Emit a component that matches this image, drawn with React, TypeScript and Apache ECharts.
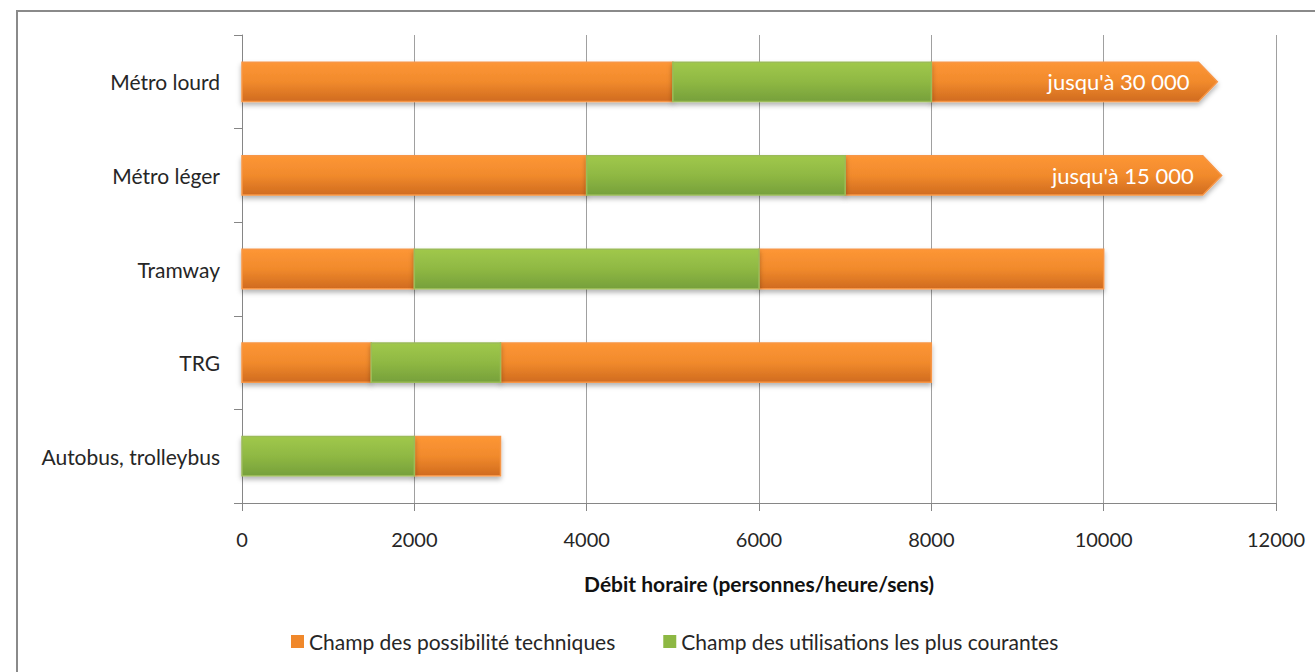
import React, { useEffect, useRef } from "react";
import * as echarts from "echarts";

const categories = ["Métro lourd", "Métro léger", "Tramway", "TRG", "Autobus, trolleybus"];

const X_MIN = 0;
const X_MAX = 12000;
const X_STEP = 2000;

const seriesNames = ["Champ des possibilité techniques", "Champ des utilisations les plus courantes"];

// [category index, start, end]
const techniqueSegments = [
  [0, 0, 5000],
  [0, 8000, 11100],
  [1, 0, 4000],
  [1, 7000, 11150],
  [2, 0, 2000],
  [2, 6000, 10000],
  [3, 0, 1500],
  [3, 3000, 8000],
  [4, 2000, 3000],
];
const techniqueLabels = ["", "jusqu'à 30 000", "", "jusqu'à 15 000", "", "", "", "", ""];

const courantSegments = [
  [0, 5000, 8000],
  [1, 4000, 7000],
  [2, 2000, 6000],
  [3, 1500, 3000],
  [4, 0, 2000],
];
const courantLabels = ["", "", "", "", ""];

const FONT = "Lato, 'Open Sans', sans-serif";

function makeRender(colors: string[], stroke: string, labels: string[]) {
  return (params: any, api: any) => {
    const cat = api.value(0);
    const s = api.value(1);
    const e = api.value(2);
    const label = labels[params.dataIndex];
    const p0 = api.coord([s, cat]);
    const p1 = api.coord([e, cat]);
    const band = api.size([0, 1])[1];
    const h = band * 0.42;
    const top = p0[1] - h / 2;
    const bot = p0[1] + h / 2;
    const fill = new echarts.graphic.LinearGradient(0, 0, 0, 1, [
      { offset: 0, color: colors[0] },
      { offset: 0.5, color: colors[1] },
      { offset: 1, color: colors[2] },
    ]);
    const style = {
      fill,
      stroke,
      lineWidth: 1.5,
      shadowBlur: 5,
      shadowOffsetY: 3,
      shadowColor: "rgba(0,0,0,0.3)",
    };
    if (!label) {
      return {
        type: "rect",
        shape: { x: p0[0], y: top, width: p1[0] - p0[0], height: h },
        style,
      };
    }
    const tip = h * 0.48;
    return {
      type: "group",
      children: [
        {
          type: "polygon",
          shape: {
            points: [
              [p0[0], top],
              [p1[0], top],
              [p1[0] + tip, p0[1]],
              [p1[0], bot],
              [p0[0], bot],
            ],
          },
          style,
        },
        {
          type: "text",
          x: p1[0] - 9,
          y: p0[1],
          style: {
            text: label,
            fill: "#ffffff",
            fontSize: 22,
            fontFamily: FONT,
            align: "right",
            verticalAlign: "middle",
            textAlign: "right",
            textVerticalAlign: "middle",
          },
        },
      ],
    };
  };
}

export default function App() {
  const ref = useRef<HTMLDivElement>(null);

  useEffect(() => {
    if (!ref.current) return;
    const chart = echarts.init(ref.current, undefined, { renderer: "svg" });
    const axisGray = "#868686";
    chart.setOption({
      animation: false,
      backgroundColor: "transparent",
      textStyle: { fontFamily: FONT },
      grid: { left: 242, right: 39, top: 35, bottom: 169, containLabel: false },
      legend: {
        left: 286,
        top: 626,
        icon: "rect",
        itemWidth: 13,
        itemHeight: 13,
        itemGap: 48,
        itemTextGap: 5,
        textStyle: { fontSize: 21, color: "#262626", fontFamily: FONT },
        data: seriesNames,
      },
      xAxis: {
        type: "value",
        min: X_MIN,
        max: X_MAX,
        interval: X_STEP,
        name: "Débit horaire (personnes/heure/sens)",
        nameLocation: "middle",
        nameGap: 70,
        nameTextStyle: { fontSize: 21, fontWeight: "bold", color: "#111", fontFamily: FONT },
        axisLine: { show: true, lineStyle: { color: axisGray, width: 1 } },
        axisTick: { show: true, length: 8, lineStyle: { color: axisGray } },
        axisLabel: {
          fontSize: 20,
          color: "#262626",
          margin: 26,
          fontFamily: FONT,
          formatter: (v: number) => String(v),
        },
        splitLine: { show: true, lineStyle: { color: "#a0a0a0", width: 1 } },
      },
      yAxis: {
        type: "category",
        inverse: true,
        data: categories,
        axisLine: { show: true, lineStyle: { color: axisGray, width: 1 } },
        axisTick: { show: true, length: 8, alignWithLabel: false, lineStyle: { color: axisGray } },
        axisLabel: { fontSize: 21, color: "#262626", margin: 22, fontFamily: FONT },
        splitLine: { show: false },
      },
      series: [
        {
          name: seriesNames[0],
          type: "custom",
          itemStyle: { color: "#F0882B" },
          encode: { x: [1, 2], y: 0 },
          renderItem: makeRender(["#FD9635", "#F18A2C", "#D06B1F"], "#F79646", techniqueLabels),
          data: techniqueSegments,
        },
        {
          name: seriesNames[1],
          type: "custom",
          itemStyle: { color: "#8DB843" },
          encode: { x: [1, 2], y: 0 },
          renderItem: makeRender(["#A0C84B", "#8FB843", "#76A03B"], "#9BBB59", courantLabels),
          data: courantSegments,
        },
      ],
    });
    return () => chart.dispose();
  }, []);

  return (
    <div
      style={{
        position: "fixed",
        left: 0,
        top: 0,
        width: 1315,
        height: 672,
        overflow: "hidden",
        background: "#ffffff",
      }}
    >
      <div
        style={{
          position: "absolute",
          left: 16,
          top: 10,
          width: 1400,
          height: 800,
          border: "2px solid #8a8a8a",
          boxSizing: "border-box",
        }}
      />
      <div ref={ref} style={{ position: "absolute", left: 0, top: 0, width: 1315, height: 672 }} />
    </div>
  );
}
